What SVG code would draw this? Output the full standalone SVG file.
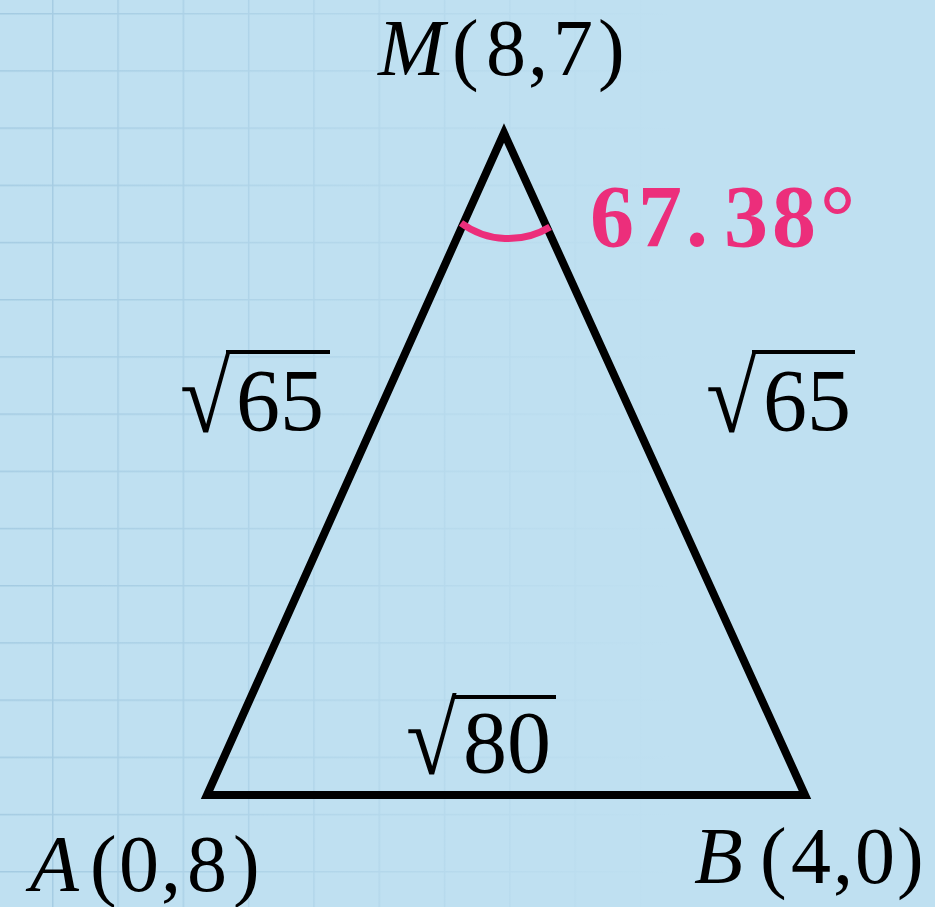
<svg xmlns="http://www.w3.org/2000/svg" width="935" height="907" viewBox="0 0 935 907">
<style>
.math{font-family:"Liberation Serif","Times New Roman",serif;fill:#000}
.lbl{font-size:80px}
.it{font-style:italic}
.rad{font-family:"Liberation Serif",serif;font-size:88px;fill:#000}
.num{font-size:88px}
.bar{stroke:#000;stroke-width:4}
.ang{font-family:"Liberation Serif",serif;font-weight:bold;font-size:88px;fill:#ec2e7b}
</style>
<defs>
<pattern id="grid" patternUnits="userSpaceOnUse" x="52" y="13" width="65.3" height="57.2">
<path d="M0 0 V57.2 M0 0 H65.3" fill="none" stroke="#a4cbe2" stroke-width="3"/>
</pattern>
<linearGradient id="fade" x1="0" y1="0" x2="935" y2="0" gradientUnits="userSpaceOnUse">
<stop offset="0" stop-color="#bfe0f1" stop-opacity="0"/>
<stop offset="0.3" stop-color="#bfe0f1" stop-opacity="0.45"/>
<stop offset="0.72" stop-color="#bfe0f1" stop-opacity="1"/>
</linearGradient>
</defs>
<rect width="935" height="907" fill="#bfe0f1"/>
<rect width="935" height="907" fill="url(#grid)"/>
<rect width="935" height="907" fill="url(#fade)"/>

<g id="edges">
<path d="M504 133 L805 795 L207 795 Z" fill="none" stroke="#000" stroke-width="8" stroke-linejoin="miter"/>
</g>

<g id="angle">
<path d="M461 223 A80 80 0 0 0 550 227" fill="none" stroke="#ec2e7b" stroke-width="7"/>
<text class="ang" x="590 638 686 724 772 820" y="246">67.38°</text>
</g>

<g id="node-M">
<text class="math lbl" x="378" y="75"><tspan class="it">M</tspan><tspan x="452">(</tspan><tspan x="486">8</tspan><tspan x="528">,</tspan><tspan x="553">7</tspan><tspan x="598">)</tspan></text>
</g>
<g id="node-A">
<text class="math lbl" x="30" y="891"><tspan class="it">A</tspan><tspan x="90">(</tspan><tspan x="119">0</tspan><tspan x="161">,</tspan><tspan x="187">8</tspan><tspan x="233">)</tspan></text>
</g>
<g id="node-B">
<text class="math lbl" x="694" y="883"><tspan class="it">B</tspan><tspan x="760">(</tspan><tspan x="791">4</tspan><tspan x="833">,</tspan><tspan x="855">0</tspan><tspan x="897">)</tspan></text>
</g>

<g id="len-MA">
<text class="rad" transform="translate(180 432) scale(1.05 1.16)">√</text>
<line class="bar" x1="226" y1="352" x2="330" y2="352"/>
<text class="math num" x="236" y="430">65</text>
</g>
<g id="len-MB">
<text class="rad" transform="translate(706 432) scale(1.05 1.16)">√</text>
<line class="bar" x1="752" y1="352" x2="855" y2="352"/>
<text class="math num" x="763" y="430">65</text>
</g>
<g id="len-AB">
<text class="rad" transform="translate(406 774) scale(1.05 1.16)">√</text>
<line class="bar" x1="452" y1="697" x2="556" y2="697"/>
<text class="math num" x="463" y="772">80</text>
</g>
</svg>
